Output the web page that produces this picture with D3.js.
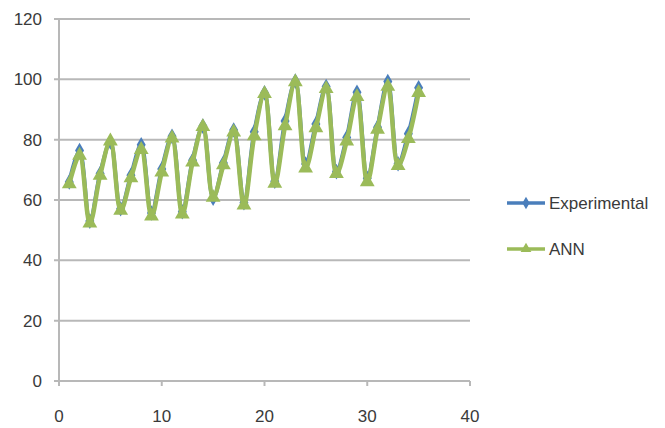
<!DOCTYPE html>
<html>
<head>
<script src="https://d3js.org/d3.v7.min.js"></script>
<style>
  body { margin: 0; background: #fff; }
  text { font-family: "Liberation Sans", Arial, sans-serif; fill: #3a3a3a; }
</style>
</head>
<body>
<svg width="665" height="428"></svg>
<script>
// chart data
const xValues = d3.range(1, 36);
const experimental = [66, 76.4, 53, 68.8, 79.2, 57.1, 68.2, 78.3, 55.7, 70.3,
  81.1, 56.1, 73.2, 84.5, 60.6, 72.3, 83.2, 59.1, 82.6, 95.5,
  66.2, 86.2, 99.4, 71.9, 85.2, 97.6, 69.4, 80.7, 95.7, 67.2,
  84.1, 99.3, 72, 82, 97.2];
const ann = [65.3, 74.8, 52.3, 68.1, 79.5, 56.5, 67.3, 76.7, 54.6, 69.2,
  80.5, 55.3, 72.5, 84.3, 60.8, 71.6, 82.5, 58.3, 81.2, 95.2,
  65.5, 84.5, 99.1, 70.5, 83.9, 96.9, 68.7, 79.5, 94.2, 66,
  83.4, 97.6, 71.4, 80.3, 95.6];
const xTicks = [0, 10, 20, 30, 40];
const yTicks = [0, 20, 40, 60, 80, 100, 120];
const seriesNames = ["Experimental", "ANN"];

const svg = d3.select("svg");
const x = d3.scaleLinear().domain([0, 40]).range([59, 470]);
const y = d3.scaleLinear().domain([0, 120]).range([381, 19]);
const gridColor = "#b8b8b8";

// horizontal gridlines
svg.append("g")
  .selectAll("line")
  .data(yTicks)
  .join("line")
  .attr("x1", 54).attr("x2", x(40))
  .attr("y1", d => y(d)).attr("y2", d => y(d))
  .attr("stroke", gridColor).attr("stroke-width", 2);

// y axis line
svg.append("line")
  .attr("x1", x(0)).attr("x2", x(0))
  .attr("y1", y(120)).attr("y2", y(0) + 5)
  .attr("stroke", gridColor).attr("stroke-width", 2);

// x tick marks
svg.append("g")
  .selectAll("line")
  .data(xTicks)
  .join("line")
  .attr("x1", d => x(d)).attr("x2", d => x(d))
  .attr("y1", y(0)).attr("y2", y(0) + 5)
  .attr("stroke", gridColor).attr("stroke-width", 2);

// tick labels
svg.append("g")
  .selectAll("text")
  .data(yTicks)
  .join("text")
  .attr("x", 42).attr("y", d => y(d))
  .attr("dy", "0.35em")
  .attr("text-anchor", "end")
  .attr("font-size", 17)
  .text(d => d);

svg.append("g")
  .selectAll("text")
  .data(xTicks)
  .join("text")
  .attr("x", d => x(d)).attr("y", 416)
  .attr("dy", "0.35em")
  .attr("text-anchor", "middle")
  .attr("font-size", 17)
  .text(d => d);

// smoothed lines like the original spreadsheet chart
const line = d3.line()
  .x(d => x(d[0])).y(d => y(d[1]))
  .curve(d3.curveCatmullRom.alpha(0.5));
const diamond = d3.symbol().type(d3.symbolDiamond).size(70);
const triangle = d3.symbol().type(d3.symbolTriangle).size(95);

const series = [
  { name: seriesNames[0], values: experimental, color: "#4a7ebb", width: 4, sym: diamond },
  { name: seriesNames[1], values: ann, color: "#9bbb59", width: 4.5, sym: triangle }
];

series.forEach(s => {
  const pts = xValues.map((v, i) => [v, s.values[i]]);
  svg.append("path")
    .datum(pts)
    .attr("d", line)
    .attr("fill", "none")
    .attr("stroke", s.color)
    .attr("stroke-width", s.width)
    .attr("stroke-linejoin", "round");
  svg.append("g")
    .selectAll("path")
    .data(pts)
    .join("path")
    .attr("transform", d => `translate(${x(d[0])},${y(d[1])})`)
    .attr("d", s.sym)
    .attr("fill", s.color);
});

// legend
const legendSym = [d3.symbol().type(d3.symbolDiamond).size(45), d3.symbol().type(d3.symbolTriangle).size(50)];
const legend = svg.append("g")
  .selectAll("g")
  .data(series)
  .join("g")
  .attr("transform", (d, i) => `translate(507,${203 + i * 46})`);
legend.append("line")
  .attr("x1", 0).attr("x2", 38)
  .attr("stroke", d => d.color)
  .attr("stroke-width", 3.5);
legend.append("path")
  .attr("transform", "translate(19,0)")
  .attr("d", (d, i) => legendSym[i]())
  .attr("fill", d => d.color);
legend.append("text")
  .attr("x", 42).attr("dy", "0.35em")
  .attr("font-size", 17)
  .text(d => d.name);
</script>
</body>
</html>
